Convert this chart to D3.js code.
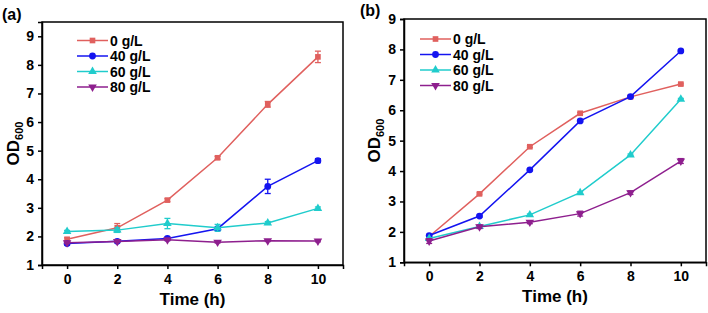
<!DOCTYPE html>
<html lang="en">
<head>
<meta charset="utf-8">
<title>OD600 growth curves</title>
<script src="https://cdn.jsdelivr.net/npm/d3@7"></script>
<style>
  body { margin: 0; background: #fff; }
  text { font-family: "Liberation Sans", Arial, sans-serif; font-weight: bold; }
</style>
</head>
<body>
<script>
// time points and tick labels
const times = [0, 2, 4, 6, 8, 10];
const xTicks = [0, 2, 4, 6, 8, 10];
const yTicks = [1, 2, 3, 4, 5, 6, 7, 8, 9];
const seriesNames = ["0 g/L", "40 g/L", "60 g/L", "80 g/L"];

// panel (a) values and error bars
const a0 = [1.9, 2.3, 3.27, 4.75, 6.62, 8.28];
const a40 = [1.75, 1.83, 1.93, 2.27, 3.75, 4.65];
const a60 = [2.17, 2.22, 2.45, 2.3, 2.47, 2.98];
const a80 = [1.78, 1.82, 1.88, 1.8, 1.85, 1.84];
const a0err = [0.05, 0.15, 0.05, 0.05, 0.1, 0.2];
const a40err = [0.05, 0.05, 0.05, 0.05, 0.25, 0.07];
const a60err = [0.04, 0.08, 0.18, 0.12, 0.05, 0.05];
const a80err = [0.03, 0.03, 0.03, 0.03, 0.03, 0.03];

// panel (b) values and error bars
const b0 = [1.85, 3.25, 4.8, 5.9, 6.44, 6.86];
const b40 = [1.88, 2.52, 4.04, 5.65, 6.45, 7.95];
const b60 = [1.78, 2.18, 2.56, 3.29, 4.53, 6.36];
const b80 = [1.7, 2.17, 2.32, 2.6, 3.29, 4.33];
const b0err = [0.03, 0.03, 0.03, 0.03, 0.03, 0.03];
const b40err = [0.03, 0.03, 0.03, 0.03, 0.03, 0.03];
const b60err = [0.03, 0.03, 0.03, 0.03, 0.03, 0.03];
const b80err = [0.08, 0.06, 0.05, 0.08, 0.06, 0.08];

const colors = ["#e0605e", "#1414f0", "#20cccc", "#8e1f8e"];
const symbols = [d3.symbolSquare, d3.symbolCircle, d3.symbolTriangle, d3.symbolTriangle];
const rotations = [0, 0, 0, 180];

const svg = d3.select("body").append("svg")
  .attr("width", 708).attr("height", 313);

function panel(cfg) {
  const g = svg.append("g");
  const x = d3.scaleLinear().domain([-1, 11]).range([cfg.left, cfg.right]);
  const y = d3.scaleLinear().domain([1, cfg.yMax]).range([cfg.bottom, cfg.top]);

  // frame
  g.append("rect")
    .attr("x", cfg.left).attr("y", cfg.top)
    .attr("width", cfg.right - cfg.left).attr("height", cfg.bottom - cfg.top)
    .attr("fill", "none").attr("stroke", "#000").attr("stroke-width", 1.5);

  const xAxis = g.append("g")
    .attr("transform", `translate(0,${cfg.bottom})`)
    .call(d3.axisBottom(x).tickValues(xTicks).tickSize(4).tickPadding(5));
  const yAxis = g.append("g")
    .attr("transform", `translate(${cfg.left},0)`)
    .call(d3.axisLeft(y).tickValues(yTicks).tickSize(4).tickPadding(4));
  [xAxis, yAxis].forEach(ax => {
    ax.select(".domain").attr("stroke-width", 1.5);
    ax.selectAll(".tick line").attr("stroke-width", 1.5);
    ax.selectAll(".tick text").attr("fill", "#000")
      .style("font-size", "14px").style("font-weight", "bold");
  });

  // series
  cfg.series.forEach((vals, si) => {
    const line = d3.line().x((d, i) => x(times[i])).y(d => y(d));
    g.append("path").datum(vals)
      .attr("d", line).attr("fill", "none")
      .attr("stroke", colors[si]).attr("stroke-width", 1.5);

    const errs = cfg.errors[si];
    vals.forEach((v, i) => {
      const cx = x(times[i]);
      const e = errs[i];
      g.append("line")
        .attr("x1", cx).attr("x2", cx)
        .attr("y1", y(v - e)).attr("y2", y(v + e))
        .attr("stroke", colors[si]).attr("stroke-width", 1.3);
      [v - e, v + e].forEach(ev => {
        g.append("line")
          .attr("x1", cx - 3).attr("x2", cx + 3)
          .attr("y1", y(ev)).attr("y2", y(ev))
          .attr("stroke", colors[si]).attr("stroke-width", 1.3);
      });
    });

    g.selectAll(null).data(vals).enter().append("path")
      .attr("d", d3.symbol().type(symbols[si]).size(si === 1 ? 36 : 32))
      .attr("transform", (d, i) => `translate(${x(times[i])},${y(d)}) rotate(${rotations[si]})`)
      .attr("fill", colors[si]);
  });

  // legend
  seriesNames.forEach((name, si) => {
    const ly = cfg.legY + si * 15.5;
    g.append("line")
      .attr("x1", cfg.legX).attr("x2", cfg.legX + 31)
      .attr("y1", ly).attr("y2", ly)
      .attr("stroke", colors[si]).attr("stroke-width", 1.5);
    g.append("path")
      .attr("d", d3.symbol().type(symbols[si]).size(si === 1 ? 36 : 32))
      .attr("transform", `translate(${cfg.legX + 15.5},${ly}) rotate(${rotations[si]})`)
      .attr("fill", colors[si]);
    g.append("text")
      .attr("x", cfg.legX + 33).attr("y", ly + 5)
      .style("font-size", "14px").text(name);
  });

  // axis titles
  g.append("text")
    .attr("x", (x(0) + x(10)) / 2).attr("y", cfg.bottom + 40)
    .attr("text-anchor", "middle").style("font-size", "17px")
    .text("Time (h)");
  const yl = g.append("text")
    .attr("transform", `translate(${cfg.yLabX},${(cfg.top + cfg.bottom) / 2}) rotate(-90)`)
    .attr("text-anchor", "middle").style("font-size", "17px");
  yl.append("tspan").text("OD");
  yl.append("tspan").attr("dy", 4).style("font-size", "11px").text("600");

  g.append("text")
    .attr("x", cfg.tagX).attr("y", cfg.tagY)
    .style("font-size", "16px").text(cfg.tag);
}

panel({
  left: 42, right: 343, top: 22, bottom: 265, yMax: 9.5,
  series: [a0, a40, a60, a80], errors: [a0err, a40err, a60err, a80err],
  legX: 77, legY: 40.5, yLabX: 19, tag: "(a)", tagX: 2, tagY: 20
});
panel({
  left: 404, right: 706, top: 19, bottom: 262.3, yMax: 9,
  series: [b0, b40, b60, b80], errors: [b0err, b40err, b60err, b80err],
  legX: 420, legY: 39, yLabX: 380, tag: "(b)", tagX: 360, tagY: 16
});
</script>
</body>
</html>
